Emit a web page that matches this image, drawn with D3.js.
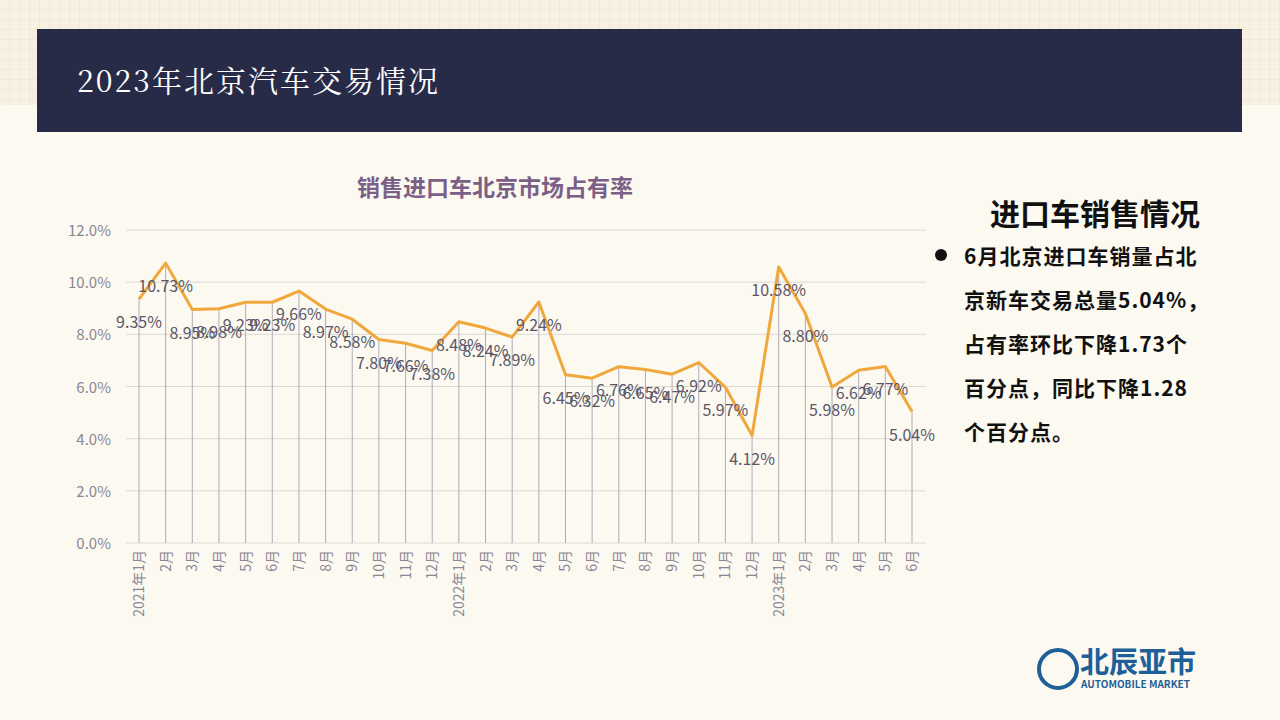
<!DOCTYPE html>
<html><head><meta charset="utf-8">
<script src="https://cdn.jsdelivr.net/npm/d3@7"></script>
<style>body{margin:0;background:#fcf9f1;font-family:"Noto Sans CJK SC",sans-serif;}</style>
</head><body><svg id="c" width="1280" height="720"></svg>
<script>
// 月份标签
const months = ["2021年1月","2月","3月","4月","5月","6月","7月","8月","9月","10月","11月","12月",
  "2022年1月","2月","3月","4月","5月","6月","7月","8月","9月","10月","11月","12月",
  "2023年1月","2月","3月","4月","5月","6月"];
// 占有率 %
const shares = [9.35,10.73,8.95,8.98,9.23,9.23,9.66,8.97,8.58,7.80,7.66,7.38,
  8.48,8.24,7.89,9.24,6.45,6.32,6.76,6.65,6.47,6.92,5.97,4.12,
  10.58,8.80,5.98,6.62,6.77,5.04];
const yTicks = [0,2,4,6,8,10,12];

const svg = d3.select("#c");

// 背景网格
const pat = svg.append("defs").append("pattern").attr("id","g").attr("width",10).attr("height",10).attr("patternUnits","userSpaceOnUse");
pat.append("rect").attr("width",10).attr("height",10).attr("fill","#f8f1e2");
pat.append("path").attr("d","M10 0V10H0").attr("fill","none").attr("stroke","#ebe2cc").attr("stroke-width",1);
svg.append("rect").attr("width",1280).attr("height",105).attr("fill","url(#g)");

// 标题栏
svg.append("rect").attr("x",37).attr("y",29).attr("width",1205).attr("height",103).attr("fill","#272b47");
svg.append("text").attr("x",77).attr("y",92).attr("fill","#fff").attr("font-size",30)
  .attr("font-family","'Noto Serif CJK SC','Noto Sans CJK SC',serif").attr("letter-spacing",2).text("2023年北京汽车交易情况");

// 图表标题
svg.append("text").attr("x",495).attr("y",196).attr("text-anchor","middle").attr("fill","#7b5f86")
  .attr("font-size",23).attr("font-weight","bold").text("销售进口车北京市场占有率");

const x = d3.scalePoint().domain(months.map((m,i)=>i)).range([139,912]);
const y = d3.scaleLinear().domain([0,12]).range([543,230]);

const g = svg.append("g");
g.selectAll(".gl").data(yTicks).enter().append("line")
  .attr("x1",126).attr("x2",926).attr("y1",d=>y(d)).attr("y2",d=>y(d))
  .attr("stroke","#dcdad6").attr("stroke-width",1);
g.selectAll(".yl").data(yTicks).enter().append("text")
  .attr("x",111).attr("y",d=>y(d)+6).attr("text-anchor","end").attr("fill","#8a8694").attr("font-size",15)
  .text(d=>d.toFixed(1)+"%");

// 垂线
g.selectAll(".drop").data(shares).enter().append("line")
  .attr("x1",(d,i)=>x(i)).attr("x2",(d,i)=>x(i)).attr("y1",d=>y(d)).attr("y2",y(0))
  .attr("stroke","#b0aab8").attr("stroke-width",1);

g.append("path").datum(shares)
  .attr("d",d3.line().x((d,i)=>x(i)).y(d=>y(d)))
  .attr("fill","none").attr("stroke","#f0a83c").attr("stroke-width",3).attr("stroke-linejoin","round");

g.selectAll(".lab").data(shares).enter().append("text")
  .attr("x",(d,i)=>x(i)).attr("y",d=>y(d)+29).attr("text-anchor","middle")
  .attr("fill","#5a5666").attr("font-size",16).text(d=>d.toFixed(2)+"%");

// x 轴标签
g.selectAll(".xl").data(months).enter().append("text")
  .attr("transform",(d,i)=>`translate(${x(i)+5},550) rotate(-90)`)
  .attr("text-anchor","end").attr("fill","#8a8694").attr("font-size",14).text(d=>d);

// 右侧说明
svg.append("text").attr("x",1095).attr("y",225).attr("text-anchor","middle").attr("font-size",30)
  .attr("font-weight","bold").attr("fill","#111").text("进口车销售情况");
svg.append("circle").attr("cx",941).attr("cy",255).attr("r",6).attr("fill","#111");
const lines = ["6月北京进口车销量占北","京新车交易总量5.04%，","占有率环比下降1.73个","百分点，同比下降1.28","个百分点。"];
svg.selectAll(".note").data(lines).enter().append("text")
  .attr("x",964).attr("y",(d,i)=>264+i*44).attr("font-size",21).attr("font-weight","bold")
  .attr("fill","#111").attr("letter-spacing",1).text(d=>d);

// 标志
svg.append("circle").attr("cx",1058).attr("cy",669).attr("r",19).attr("fill","none").attr("stroke","#1f5f99").attr("stroke-width",4);
svg.append("text").attr("x",1080).attr("y",673).attr("font-size",29).attr("font-weight","bold").attr("fill","#1f5f99").text("北辰亚市");
svg.append("text").attr("x",1081).attr("y",688).attr("font-size",10).attr("font-weight","bold").attr("fill","#1f5f99").text("AUTOMOBILE MARKET");
</script></body></html>
